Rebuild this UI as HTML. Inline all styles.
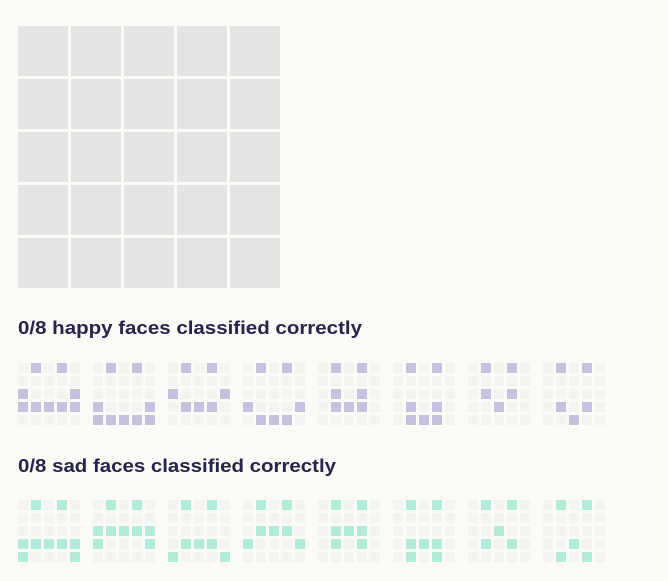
<!DOCTYPE html>
<html><head><meta charset="utf-8"><style>
html,body{margin:0;padding:0;background:#fbfaf6;}
svg{display:block;}
text{font-family:"Liberation Sans",sans-serif;font-weight:bold;font-size:18px;fill:#25244a;}
</style></head><body>
<svg id="chart" width="668" height="581" viewBox="0 0 668 581" xmlns="http://www.w3.org/2000/svg">
<rect width="668" height="581" fill="#fbfaf6"/>
<g id="big"></g>
<text x="18" y="334" textLength="344" lengthAdjust="spacingAndGlyphs">0/8 happy faces classified correctly</text>
<g id="happy"></g>
<text x="18" y="472" textLength="318" lengthAdjust="spacingAndGlyphs">0/8 sad faces classified correctly</text>
<g id="sad"></g>
</svg>
<script>
const happyFaces = [
 ["01010","00000","10001","11111","00000"],
 ["01010","00000","00000","10001","11111"],
 ["01010","00000","10001","01110","00000"],
 ["01010","00000","00000","10001","01110"],
 ["01010","00000","01010","01110","00000"],
 ["01010","00000","00000","01010","01110"],
 ["01010","00000","01010","00100","00000"],
 ["01010","00000","00000","01010","00100"]
];
const sadFaces = [
 ["01010","00000","00000","11111","10001"],
 ["01010","00000","11111","10001","00000"],
 ["01010","00000","00000","01110","10001"],
 ["01010","00000","01110","10001","00000"],
 ["01010","00000","01110","01010","00000"],
 ["01010","00000","00000","01110","01010"],
 ["01010","00000","00100","01010","00000"],
 ["01010","00000","00000","00100","01010"]
];
const NS="http://www.w3.org/2000/svg";
function rect(g,x,y,s,fill){
 const r=document.createElementNS(NS,"rect");
 r.setAttribute("x",x);r.setAttribute("y",y);r.setAttribute("width",s);r.setAttribute("height",s);r.setAttribute("fill",fill);
 g.appendChild(r);return r;
}
const big=document.getElementById("big");
for(let r=0;r<5;r++)for(let c=0;c<5;c++){
 const el=rect(big,18+c*53,26+r*53,50,"#e4e4e4");
 
 
}
function drawFaces(id,faces,y0,color,kind){
 const g=document.getElementById(id);
 faces.forEach((f,i)=>{
  const fg=document.createElementNS(NS,"g");
  
  
  g.appendChild(fg);
  for(let r=0;r<5;r++)for(let c=0;c<5;c++){
   const on=f[r][c]==="1";
   const el=rect(fg,18+i*75+c*13,y0+r*13,10,on?color:"#f3f3f1");
   
   
  }
 });
}
drawFaces("happy",happyFaces,363,"#c5c1df","happy");
drawFaces("sad",sadFaces,500,"#b1ebd9","sad");
</script>
</body></html>
